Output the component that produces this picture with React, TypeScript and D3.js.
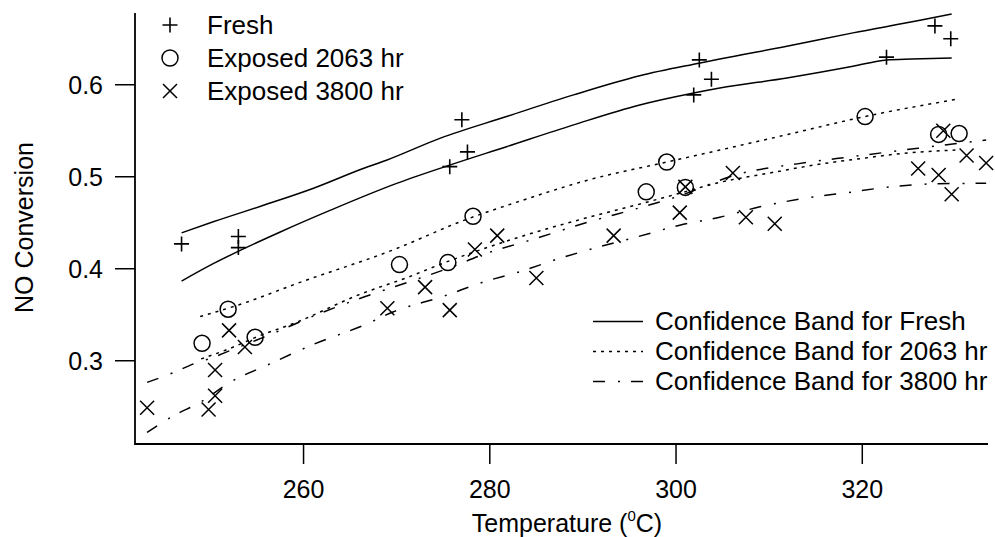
import React from "react";
import * as d3 from "d3";

// ---- data ----
const freshT = [246.9, 253.0, 253.0, 275.7, 277.0, 277.6, 301.9, 302.5, 303.8, 322.6, 327.8, 329.5];
const freshV = [0.427, 0.435, 0.423, 0.511, 0.562, 0.527, 0.589, 0.627, 0.606, 0.630, 0.664, 0.650];

const exp2063T = [249.1, 251.9, 254.8, 270.3, 275.5, 278.2, 296.8, 299.0, 301.0, 320.3, 328.2, 330.4];
const exp2063V = [0.319, 0.356, 0.3255, 0.4045, 0.4067, 0.457, 0.4836, 0.516, 0.4884, 0.5654, 0.546, 0.547];

const exp3800T = [243.2, 249.8, 250.5, 250.5, 252.0, 253.7, 269.0, 273.05, 275.7, 278.4, 280.8, 285.0, 293.3, 300.4, 301.0, 306.1, 307.5, 310.6, 326.0, 328.2, 328.7, 329.6, 331.2, 333.3];
const exp3800V = [0.249, 0.247, 0.262, 0.290, 0.333, 0.315, 0.357, 0.380, 0.355, 0.421, 0.436, 0.390, 0.436, 0.461, 0.489, 0.504, 0.456, 0.449, 0.509, 0.502, 0.550, 0.481, 0.523, 0.515];

const freshUpperT = [246.9, 250.3, 255.7, 261.0, 266.4, 268.9, 274.7, 281.8, 289.0, 296.1, 302.6, 304.7, 311.9, 319.0, 326.2, 329.6];
const freshUpperV = [0.439, 0.451, 0.469, 0.4873, 0.509, 0.518, 0.542, 0.5655, 0.589, 0.6098, 0.6237, 0.628, 0.6418, 0.6564, 0.670, 0.677];
const freshLowerT = [246.9, 250.3, 253.2, 257.5, 262.9, 270.0, 275.2, 281.8, 289.0, 296.1, 301.9, 304.7, 311.9, 319.0, 322.6, 325.3, 329.6];
const freshLowerV = [0.3866, 0.4055, 0.42, 0.44, 0.4637, 0.4928, 0.511, 0.5327, 0.5564, 0.578, 0.591, 0.5964, 0.6073, 0.620, 0.627, 0.628, 0.629];

const band2063UpperT = [248.9, 253.7, 259.3, 270.0, 276.8, 284.0, 290.4, 299.0, 304.7, 312.0, 320.3, 330.0];
const band2063UpperV = [0.348, 0.363, 0.384, 0.422, 0.451, 0.476, 0.496, 0.516, 0.529, 0.546, 0.5655, 0.584];
const band2063LowerT = [249.0, 252.0, 255.0, 259.3, 266.0, 271.0, 275.5, 280.0, 284.0, 291.0, 296.0, 300.0, 305.0, 310.0, 315.0, 320.0, 325.0, 330.0];
const band2063LowerV = [0.302, 0.313, 0.326, 0.342, 0.372, 0.39, 0.408, 0.424, 0.437, 0.457, 0.47, 0.481, 0.4946, 0.504, 0.513, 0.520, 0.526, 0.529];

const band3800UpperT = [243.2, 246.0, 248.2, 250.3, 252.1, 256.8, 261.4, 266.4, 271.1, 275.4, 280.0, 284.0, 291.0, 296.0, 300.0, 307.0, 313.0, 319.0, 326.0, 333.3];
const band3800UpperV = [0.2765, 0.287, 0.2966, 0.3037, 0.311, 0.330, 0.350, 0.369, 0.385, 0.400, 0.418, 0.430, 0.452, 0.466, 0.478, 0.5037, 0.514, 0.522, 0.531, 0.540];
const band3800LowerT = [243.2, 246.0, 248.9, 252.1, 256.4, 261.1, 266.8, 269.6, 275.0, 279.3, 283.6, 286.8, 291.1, 295.8, 300.4, 304.7, 309.0, 313.7, 318.3, 323.0, 326.9, 331.2, 333.3];
const band3800LowerV = [0.222, 0.240, 0.2547, 0.2765, 0.2966, 0.318, 0.340, 0.353, 0.370, 0.3855, 0.398, 0.409, 0.422, 0.4346, 0.4473, 0.456, 0.4673, 0.4764, 0.4826, 0.489, 0.492, 0.4928, 0.493];

const xTicks = [260, 280, 300, 320];
const yTicks = [0.3, 0.4, 0.5, 0.6];
const markerLegend = ["Fresh", "Exposed 2063 hr", "Exposed 3800 hr"];
const bandLegend = ["Confidence Band for Fresh", "Confidence Band for 2063 hr", "Confidence Band for 3800 hr"];

const W = 995;
const H = 537;
const FONT = "'Liberation Sans', Arial, sans-serif";
const DOTTED = "3,5";
const DASHDOT = "12,13,2,11";

const x = d3.scaleLinear().domain([241.9, 333.5]).range([135, 988]);
const y = d3.scaleLinear().domain([0.2095, 0.678]).range([444, 13]);

const lineGen = d3
  .line<[number, number]>()
  .x((d) => x(d[0]))
  .y((d) => y(d[1]))
  .curve(d3.curveMonotoneX);

const zip = (a: number[], b: number[]) => a.map((t, i) => [t, b[i]] as [number, number]);

function Plus({ cx, cy }: { cx: number; cy: number }) {
  const s = 7.5;
  return (
    <path d={`M${cx - s},${cy}H${cx + s}M${cx},${cy - s}V${cy + s}`} stroke="#000" strokeWidth={1.6} fill="none" />
  );
}
function Circ({ cx, cy }: { cx: number; cy: number }) {
  return <circle cx={cx} cy={cy} r={8} stroke="#000" strokeWidth={1.5} fill="none" />;
}
function Cross({ cx, cy }: { cx: number; cy: number }) {
  const s = 7;
  return (
    <path
      d={`M${cx - s},${cy - s}L${cx + s},${cy + s}M${cx - s},${cy + s}L${cx + s},${cy - s}`}
      stroke="#000"
      strokeWidth={1.5}
      fill="none"
    />
  );
}

export default function App() {
  const bands = [
    { d: zip(freshUpperT, freshUpperV), dash: undefined },
    { d: zip(freshLowerT, freshLowerV), dash: undefined },
    { d: zip(band2063UpperT, band2063UpperV), dash: DOTTED },
    { d: zip(band2063LowerT, band2063LowerV), dash: DOTTED },
    { d: zip(band3800UpperT, band3800UpperV), dash: DASHDOT },
    { d: zip(band3800LowerT, band3800LowerV), dash: DASHDOT },
  ];
  const legendDash = [undefined, DOTTED, DASHDOT];
  return (
    <svg
      width={W}
      height={H}
      style={{ position: "absolute", left: 0, top: 0, background: "#fff" }}
      fontFamily={FONT}
    >
      <rect x={0} y={0} width={W} height={H} fill="#fff" />
      {/* axes */}
      <line x1={x.range()[0]} x2={x.range()[1]} y1={y.range()[0]} y2={y.range()[0]} stroke="#000" strokeWidth={1.8} />
      <line x1={x.range()[0]} x2={x.range()[0]} y1={y.range()[0] + 1} y2={y.range()[1]} stroke="#000" strokeWidth={1.8} />
      {xTicks.map((t) => (
        <g key={t}>
          <line x1={x(t)} x2={x(t)} y1={y.range()[0]} y2={y.range()[0] + 20} stroke="#000" strokeWidth={1.5} />
          <text x={x(t)} y={498} textAnchor="middle" fontSize={25}>
            {t}
          </text>
        </g>
      ))}
      {yTicks.map((v) => (
        <g key={v}>
          <line x1={x.range()[0] - 20} x2={x.range()[0]} y1={y(v)} y2={y(v)} stroke="#000" strokeWidth={1.5} />
          <text x={103} y={y(v) + 9.5} textAnchor="end" fontSize={25}>
            {v.toFixed(1)}
          </text>
        </g>
      ))}
      <text x={567} y={532} textAnchor="middle" fontSize={25}>
        Temperature (
        <tspan fontSize={15} dy={-11}>
          0
        </tspan>
        <tspan dy={11}>C)</tspan>
      </text>
      <text transform={`translate(33,227.5) rotate(-90)`} textAnchor="middle" fontSize={25}>
        NO Conversion
      </text>

      {/* bands */}
      {bands.map((b, i) => (
        <path key={i} d={lineGen(b.d) || ""} fill="none" stroke="#000" strokeWidth={1.5} strokeDasharray={b.dash} />
      ))}

      {/* markers */}
      {freshT.map((t, i) => (
        <Plus key={"f" + i} cx={x(t)} cy={y(freshV[i])} />
      ))}
      {exp2063T.map((t, i) => (
        <Circ key={"c" + i} cx={x(t)} cy={y(exp2063V[i])} />
      ))}
      {exp3800T.map((t, i) => (
        <Cross key={"x" + i} cx={x(t)} cy={y(exp3800V[i])} />
      ))}

      {/* marker legend */}
      {markerLegend.map((lab, i) => {
        const cy = 25 + i * 33;
        return (
          <g key={lab}>
            {i === 0 && <Plus cx={170} cy={cy} />}
            {i === 1 && <Circ cx={170} cy={cy} />}
            {i === 2 && <Cross cx={170} cy={cy} />}
            <text x={207} y={cy + 9} fontSize={26}>
              {lab}
            </text>
          </g>
        );
      })}

      {/* band legend */}
      {bandLegend.map((lab, i) => {
        const ly = 321.5 + i * 30;
        return (
          <g key={lab}>
            <line x1={593} x2={643} y1={ly} y2={ly} stroke="#000" strokeWidth={1.5} strokeDasharray={legendDash[i]} />
            <text x={655} y={ly + 8} fontSize={26}>
              {lab}
            </text>
          </g>
        );
      })}
    </svg>
  );
}
